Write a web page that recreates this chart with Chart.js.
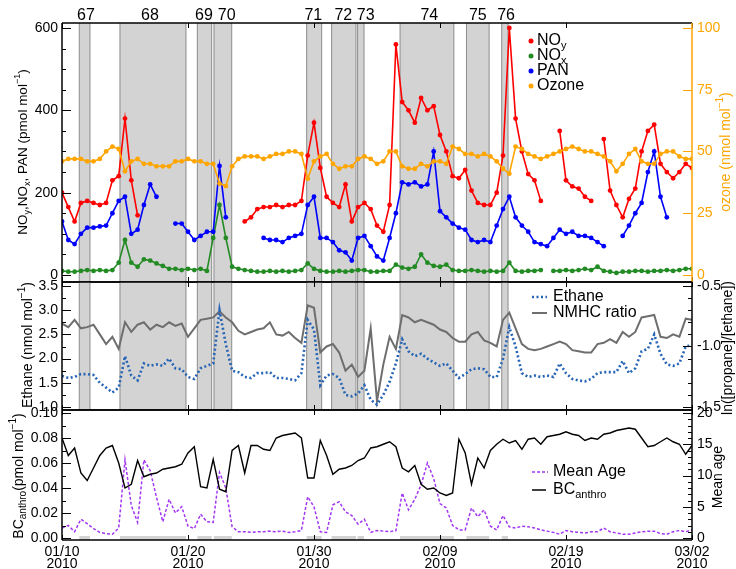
<!DOCTYPE html>
<html>
<head>
<meta charset="utf-8">
<script src="https://cdn.jsdelivr.net/npm/chart.js@4.4.0/dist/chart.umd.min.js"></script>
<style>
  body { margin: 0; background: #fff; }
  #wrap { position: relative; width: 736px; height: 569px; }
  #wrap canvas { position: absolute; left: 0; top: 0; }
</style>
</head>
<body>
<div id="wrap">
  <canvas id="cTop" width="736" height="569"></canvas>
  <canvas id="cMid" width="736" height="569"></canvas>
  <canvas id="cBot" width="736" height="569"></canvas>
</div>
<script>
const FONT = '"Liberation Sans", Arial, sans-serif';

// x grid : half-day steps, day 0 = 01/10 ... day 50 = 03/02
const days = [];
for (let i = 0; i <= 100; i++) {
  days.push(i / 2);
}
const tickDays = [0, 10, 20, 30, 40, 50];
const dateLabels = ["01/10", "01/20", "01/30", "02/09", "02/19", "03/02"];
const yearLabel = "2010";

// episodes (grey bands)
const episodeLabels = ["67", "68", "69", "70", "71", "72", "73", "74", "75", "76"];
const episodeStart = [1.37, 4.6, 10.74, 12.06, 19.42, 21.4, 23.46, 26.83, 32.1, 34.9];
const episodeEnd = [2.22, 9.84, 11.88, 13.47, 20.61, 23.33, 23.97, 31.1, 33.9, 35.4];
const episodeLabelDay = [1.9, 6.98, 11.27, 13.07, 19.95, 22.33, 24.1, 29.15, 33.0, 35.24];

// top panel (pmol/mol, ozone nmol/mol)
const noy = [
  200, 165, 130, 175, 180, 175, 170, 175, 230, 240,
  380, 230, 145, null, null, null, null, null, null, null,
  null, null, null, null, null, null, null, null, null, 130,
  140, 160, 165, 165, 170, 165, 170, 170, 180, 290,
  370, 260, 190, 175, 165, 220, 130, 165, 175, 160,
  120, 105, 170, 560, 420, 400, 370, 430, 400, 410,
  340, 300, 240, 235, 255, 205, 175, 170, 170, 200,
  290, 600, 380, 300, 245, 230, 180, null, null, 350,
  230, 215, 210, 190, 180, null, 330, 205, 170, 140,
  185, 210, 300, 350, 365, 270, 250, 235, 250, 270,
  260
];
const nox = [
  10, 8, 8, 10, 12, 10, 12, 10, 12, 30,
  85, 30, 20, 38, 35, 28, 22, 15, 15, 12,
  15, 12, 15, 10, 90, 170, 90, 20, 15, 12,
  10, 8, 8, 10, 8, 10, 8, 10, 12, 28,
  15, 10, 8, 8, 10, 8, 10, 12, 12, 8,
  8, 10, 10, 25, 18, 15, 20, 50, 30, 22,
  20, 25, 12, 10, 10, 12, 10, 8, 10, 8,
  10, 30, 10, 8, 10, 10, 12, null, 10, 10,
  12, 10, 12, 15, 12, 20, 10, 8, 5, 8,
  8, 10, 10, 8, 10, 10, 12, 10, 12, 15,
  15
];
const pan = [
  130, 85, 75, 100, 115, 115, 118, 120, 150, 180,
  190, 100, 110, 170, 220, 190, null, null, 125, 125,
  105, 85, 95, 105, 105, 265, 140, null, null, null,
  null, null, 90, 85, 85, 80, 90, 95, 100, 170,
  190, 90, 90, 80, 60, 55, 35, 90, 95, 70,
  45, 35, 90, 150, 225, 220, 225, 215, 220, 300,
  155, 140, 125, 115, 110, 85, 80, 85, 80, 120,
  160, 190, 140, 120, 105, 80, 75, 70, 90, 110,
  100, 105, 95, 95, 90, 80, 70, null, null, 95,
  120, 150, 175, 250, 300, 190, 140, null, null, null,
  null
];
const ozone = [
  46, 47, 47, 47, 46, 46, 47, 50, 52, 51,
  42, 46, 47, 45, 45, 44, 44, 44, 46, 46,
  47, 46, 46, 45, 45, 37, 36, 44, 47, 48,
  48, 48, 47, 48, 49, 49, 50, 50, 49, 39,
  46, 48, 49, 45, 43, 44, 44, 47, 48, 47,
  45, 46, 50, 50, 44, 43, 43, 45, 44, 46,
  46, 45, 52, 51, 49, 49, 48, 49, 48, 46,
  43, 41, 52, 51, 49, 48, 47, 48, 49, 50,
  51, 52, 51, 50, 50, 49, 48, 46, 42, 45,
  49, 51, 46, 45, 45, 49, 50, 50, 48, 47,
  47
];

// middle panel
const ethane = [
  1.64, 1.60, 1.62, 1.68, 1.68, 1.66, 1.50, 1.40, 1.30, 1.40,
  2.05, 1.65, 1.55, 1.90, 1.85, 1.88, 1.85, 2.00, 1.80, 1.78,
  1.62, 1.58, 1.80, 1.85, 1.90, 3.00, 2.30, 1.75, 1.72, 1.62,
  1.60, 1.70, 1.70, 1.72, 1.60, 1.60, 1.58, 1.55, 1.70, 2.80,
  2.60, 1.45, 1.65, 1.68, 1.60, 1.25, 1.22, 1.28, 1.45, 1.15,
  1.05, 1.25, 1.52, 1.90, 2.40, 2.15, 2.05, 2.10, 2.00, 1.92,
  1.85, 1.90, 1.75, 1.60, 1.68, 1.78, 1.80, 1.78, 1.62, 1.62,
  2.00, 2.65, 2.25, 1.70, 1.62, 1.65, 1.62, 1.65, 1.62, 1.90,
  1.70, 1.58, 1.55, 1.53, 1.58, 1.70, 1.72, 1.72, 1.72, 1.95,
  1.70, 1.80, 2.15, 2.20, 2.50, 2.10, 1.88, 1.85, 1.90, 2.25,
  2.28
];
const nmhcRatio = [
  -0.81, -0.84, -0.78, -0.85, -0.84, -0.82, -0.90, -0.98, -0.92, -1.02,
  -0.80, -0.88, -0.82, -0.80, -0.86, -0.82, -0.84, -0.80, -0.83, -0.81,
  -0.92, -0.85, -0.78, -0.77, -0.76, -0.71, -0.76, -0.80, -0.87, -0.90,
  -0.88, -0.86, -0.85, -0.80, -0.90, -0.91, -0.88, -0.93, -0.97, -0.66,
  -0.68, -1.05, -1.00, -0.98, -1.05, -1.20, -1.15, -1.25, -1.20, -0.85,
  -1.45, -1.15, -0.92, -1.02, -0.74, -0.76, -0.80, -0.78, -0.80, -0.82,
  -0.86, -0.88, -0.93, -0.96, -0.96, -0.90, -0.88, -0.95, -0.97, -1.00,
  -0.78, -0.72, -0.85, -0.98, -1.02, -1.03, -1.02, -1.00, -0.98, -0.96,
  -0.98, -1.03, -1.04, -1.05, -1.05, -0.98, -0.97, -0.94, -0.97, -0.88,
  -0.92, -0.88, -0.76, -0.75, -0.74, -0.92, -0.93, -0.90, -0.92, -0.77,
  -0.78
];

// bottom panel
const bcAnthro = [
  0.080, 0.066, 0.072, 0.052, 0.046, 0.056, 0.066, 0.072, 0.074, 0.060,
  0.040, 0.043, 0.062, 0.049, 0.051, 0.052, 0.055, 0.056, 0.057, 0.059,
  0.068, 0.073, 0.041, 0.040, 0.063, 0.039, 0.037, 0.070, 0.074, 0.052,
  0.074, 0.074, 0.071, 0.070, 0.080, 0.082, 0.083, 0.084, 0.080, 0.048,
  0.048, 0.078, 0.066, 0.051, 0.055, 0.056, 0.058, 0.062, 0.064, 0.072,
  0.073, 0.075, 0.077, 0.073, 0.056, 0.053, 0.058, 0.043, 0.039, 0.040,
  0.036, 0.034, 0.036, 0.079, 0.068, 0.043, 0.064, 0.056, 0.070, 0.075,
  0.079, 0.076, 0.078, 0.071, 0.079, 0.080, 0.075, 0.081, 0.082, 0.083,
  0.085, 0.083, 0.082, 0.078, 0.080, 0.079, 0.083, 0.084, 0.086, 0.087,
  0.088, 0.087, 0.080, 0.073, 0.074, 0.077, 0.080, 0.077, 0.075, 0.067,
  0.074
];
const meanAge = [
  1.6, 2.0, 1.0, 3.0, 2.3, 1.5, 0.9, 0.7, 0.6, 1.6,
  12.5, 5.2, 2.5, 12.5, 10.8, 6.5, 2.6, 6.2, 4.0, 5.0,
  1.9, 1.5, 3.8, 2.6, 2.5, 10.5, 8.0, 1.8, 1.0, 1.0,
  0.9, 1.0, 1.0, 1.1, 1.0, 1.1, 0.9, 1.0, 1.2, 6.6,
  5.0, 1.0, 0.9, 5.3, 5.8, 4.2, 3.6, 2.2, 3.0, 0.9,
  1.2, 1.1, 1.0, 1.2, 7.2, 4.5, 6.2, 8.5, 12.0, 9.5,
  5.5, 4.8, 2.0, 1.3, 1.3, 4.8, 3.4, 4.5, 1.9, 1.3,
  3.6, 1.8, 1.6, 1.9, 1.8, 1.6, 1.3, 1.1, 0.9, 0.6,
  1.2, 1.0, 0.9, 0.8, 1.0, 1.0, 1.6, 1.0, 0.8, 0.6,
  0.6, 0.8, 1.0, 1.1, 1.1, 0.7, 0.6, 1.0, 1.2, 1.0,
  1.3
];

// tick labels
const noyTicks = [0, 200, 400, 600];
const ozoneTicks = [0, 25, 50, 75, 100];
const ethaneTicks = [1.0, 1.5, 2.0, 2.5, 3.0, 3.5];
const ratioTicks = [-1.5, -1.0, -0.5];
const bcTicks = [0, 0.02, 0.04, 0.06, 0.08, 0.10];
const ageTicks = [0, 5, 10, 15, 20];

const RED = "#ff0000", GREEN = "#238b23", BLUE = "#0000ff", ORANGE = "#ffa500";
const ETH = "#2563b4", GREY = "#6e6e6e", PURPLE = "#a236f2";

function pts(arr) {
  return days.map((d, i) => ({ x: d, y: arr[i] }));
}

function line(ctx, x0, y0, x1, y1) {
  ctx.beginPath();
  ctx.moveTo(x0, y0);
  ctx.lineTo(x1, y1);
  ctx.stroke();
}

// text with sub/superscripts, parts = [[text, "sub"|"sup"|undefined], ...]
function rich(ctx, parts, x, y, size, color, rot, align) {
  ctx.save();
  ctx.translate(x, y);
  if (rot) ctx.rotate(rot);
  ctx.fillStyle = color;
  ctx.textBaseline = "middle";
  ctx.textAlign = "left";
  const small = Math.round(size * 0.7);
  const fontOf = p => (p[1] ? small : size) + "px " + FONT;
  let w = 0;
  parts.forEach(p => { ctx.font = fontOf(p); w += ctx.measureText(p[0]).width; });
  let cx = align === "left" ? 0 : -w / 2;
  parts.forEach(p => {
    ctx.font = fontOf(p);
    const dy = p[1] === "sub" ? size * 0.32 : p[1] === "sup" ? -size * 0.38 : 0;
    ctx.fillText(p[0], cx, dy);
    cx += ctx.measureText(p[0]).width;
  });
  ctx.restore();
}

// inward tick marks on a y axis
function yTicks(ctx, scale, x, dir, minorStep, color) {
  ctx.strokeStyle = color;
  ctx.lineWidth = 1;
  if (minorStep) {
    for (let k = Math.ceil(scale.min / minorStep - 1e-6); k * minorStep <= scale.max + 1e-9; k++) {
      const y = Math.round(scale.getPixelForValue(k * minorStep)) + 0.5;
      line(ctx, x, y, x + dir * 4, y);
    }
  }
  scale.ticks.forEach(t => {
    const y = Math.round(scale.getPixelForValue(t.value)) + 0.5;
    line(ctx, x, y, x + dir * 9, y);
  });
}

function panelPlugin(cfg) {
  return {
    id: "panel_" + cfg.name,
    beforeDatasetsDraw(chart) {
      const { ctx, chartArea: a, scales: { x } } = chart;
      ctx.save();
      episodeStart.forEach((s, i) => {
        const x0 = x.getPixelForValue(s), x1 = x.getPixelForValue(episodeEnd[i]);
        ctx.fillStyle = "#d3d3d3";
        if (cfg.strip) {
          ctx.fillRect(x0, a.bottom - 4, x1 - x0, 4);
          return;
        }
        ctx.fillRect(x0, a.top, x1 - x0, a.bottom - a.top);
        ctx.strokeStyle = "#8c8c8c";
        ctx.lineWidth = 1;
        line(ctx, x0, a.top, x0, a.bottom);
        line(ctx, x1, a.top, x1, a.bottom);
      });
      ctx.restore();
    },
    afterDraw(chart) {
      const { ctx, chartArea: a, scales } = chart;
      ctx.save();
      ctx.strokeStyle = "#000";
      ctx.lineWidth = 1;
      tickDays.forEach(d => {
        const px = Math.round(scales.x.getPixelForValue(d)) + 0.5;
        line(ctx, px, a.top, px, a.top + 5);
        line(ctx, px, a.bottom - 5, px, a.bottom);
      });
      yTicks(ctx, scales.y, a.left, 1, cfg.leftMinor, "#000");
      yTicks(ctx, scales.y2, a.right, -1, cfg.rightMinor, cfg.rightColor);
      // frame
      ctx.lineWidth = 1.5;
      ctx.strokeStyle = "#000";
      line(ctx, a.left, a.top, a.right, a.top);
      line(ctx, a.left, a.bottom, a.right, a.bottom);
      line(ctx, a.left, a.top, a.left, a.bottom);
      ctx.strokeStyle = cfg.rightColor;
      line(ctx, a.right, a.top, a.right, a.bottom);
      cfg.extra(ctx, chart);
      ctx.restore();
    }
  };
}

function yScale(pos, min, max, ticks, fmt, color, width) {
  return {
    type: "linear",
    position: pos,
    min: min,
    max: max,
    afterFit: s => { s.width = width; },
    afterBuildTicks: s => { s.ticks = ticks.map(v => ({ value: v })); },
    grid: { display: false, drawTicks: false },
    border: { display: false },
    ticks: { color: color, font: { family: FONT, size: 14 }, padding: pos === "left" ? 4 : 5, callback: fmt }
  };
}

const hiddenX = { type: "linear", min: 0, max: 50, display: false };

function makeChart(id, padTop, padBottom, datasets, scales, plugin) {
  return new Chart(document.getElementById(id), {
    type: "line",
    data: { datasets: datasets },
    options: {
      responsive: false,
      animation: false,
      events: [],
      layout: { padding: { top: padTop, bottom: padBottom, left: 0, right: 0 } },
      plugins: { legend: { display: false }, tooltip: { enabled: false } },
      scales: scales
    },
    plugins: [plugin]
  });
}

function dots(label, arr, color, axis, order) {
  return {
    label: label, data: pts(arr), yAxisID: axis, order: order,
    borderColor: color, backgroundColor: color, borderWidth: 1.6,
    pointRadius: 2.4, pointBorderWidth: 0, pointBackgroundColor: color, spanGaps: false
  };
}

/* top panel : NOy, NOx, PAN, ozone */
makeChart("cTop", 23, 569 - 282, [
  dots("Ozone", ozone, ORANGE, "y2", 0),
  dots("NOy", noy, RED, "y", 1),
  dots("PAN", pan, BLUE, "y", 2),
  dots("NOx", nox, GREEN, "y", 3)
], {
  x: hiddenX,
  y: yScale("left", -17, 612, noyTicks, v => String(v), "#000", 62),
  y2: yScale("right", -17 / 6, 612 / 6, ozoneTicks, v => String(v), ORANGE, 44)
}, panelPlugin({
  name: "top", leftMinor: 50, rightMinor: 0, rightColor: ORANGE,
  extra(ctx, chart) {
    const x = chart.scales.x;
    ctx.fillStyle = "#000";
    ctx.font = "16px " + FONT;
    ctx.textAlign = "center";
    ctx.textBaseline = "middle";
    episodeLabels.forEach((t, i) => ctx.fillText(t, x.getPixelForValue(episodeLabelDay[i]), 16));
    rich(ctx, [["NO"], ["y", "sub"], [",NO"], ["x", "sub"], [", PAN (pmol mol"], ["\u22121", "sup"], [")"]], 23, 152, 13.5, "#000", -Math.PI / 2);
    rich(ctx, [["ozone (nmol mol"], ["\u22121", "sup"], [")"]], 726, 152, 14, ORANGE, -Math.PI / 2);
    const legendText = [[["NO"], ["y", "sub"]], [["NO"], ["x", "sub"]], [["PAN"]], [["Ozone"]]];
    const legendColor = [RED, GREEN, BLUE, ORANGE];
    legendText.forEach((parts, i) => {
      const y = 41 + i * 15;
      ctx.fillStyle = legendColor[i];
      ctx.beginPath();
      ctx.arc(531, y, 2.5, 0, Math.PI * 2);
      ctx.fill();
      rich(ctx, parts, 537, y, 16, "#000", 0, "left");
    });
  }
}));

/* middle panel : ethane and NMHC ratio */
makeChart("cMid", 282, 569 - 410, [
  { label: "Ethane", data: pts(ethane), yAxisID: "y", order: 0, borderColor: ETH, borderWidth: 2.6, borderDash: [2, 2.5], pointRadius: 0 },
  { label: "NMHC ratio", data: pts(nmhcRatio), yAxisID: "y2", order: 1, borderColor: GREY, borderWidth: 2, pointRadius: 0 }
], {
  x: hiddenX,
  y: yScale("left", 0.938, 3.583, ethaneTicks, v => v.toFixed(1), "#000", 62),
  y2: yScale("right", -1.525, -0.467, ratioTicks, v => v.toFixed(1), "#000", 44)
}, panelPlugin({
  name: "mid", leftMinor: 0.25, rightMinor: 0.1, rightColor: "#000",
  extra(ctx) {
    rich(ctx, [["Ethane (nmol mol"], ["\u22121", "sup"], [")"]], 28, 345, 14, "#000", -Math.PI / 2);
    rich(ctx, [["ln([propane]/[ethane])"]], 728, 348, 14, "#000", -Math.PI / 2);
    ctx.lineWidth = 2.6;
    ctx.strokeStyle = ETH;
    ctx.setLineDash([2, 2.5]);
    line(ctx, 532, 297, 547, 297);
    ctx.setLineDash([]);
    ctx.lineWidth = 2;
    ctx.strokeStyle = GREY;
    line(ctx, 532, 313, 547, 313);
    rich(ctx, [["Ethane"]], 553, 297, 16, "#000", 0, "left");
    rich(ctx, [["NMHC ratio"]], 553, 313, 16, "#000", 0, "left");
  }
}));

/* bottom panel : BC anthro and mean age */
makeChart("cBot", 410, 0, [
  { label: "BC", data: pts(bcAnthro), yAxisID: "y", order: 0, borderColor: "#000", borderWidth: 1.4, pointRadius: 0 },
  { label: "Mean Age", data: pts(meanAge), yAxisID: "y2", order: 1, borderColor: PURPLE, borderWidth: 1.5, borderDash: [3, 2], pointRadius: 0 }
], {
  x: {
    type: "linear", position: "bottom", min: 0, max: 50,
    afterFit: s => { s.height = 29; },
    afterBuildTicks: s => { s.ticks = tickDays.map(v => ({ value: v })); },
    grid: { display: false, drawTicks: false },
    border: { display: false },
    ticks: {
      autoSkip: false, maxRotation: 0, padding: 7, color: "#000",
      font: { family: FONT, size: 14, lineHeight: 0.8 },
      callback: v => [dateLabels[tickDays.indexOf(v)], yearLabel]
    }
  },
  y: yScale("left", -0.0016, 0.1024, bcTicks, v => v.toFixed(2), "#000", 62),
  y2: yScale("right", -0.32, 20.48, ageTicks, v => String(v), "#000", 44)
}, panelPlugin({
  name: "bot", strip: true, leftMinor: 0.01, rightMinor: 1, rightColor: "#000",
  extra(ctx) {
    rich(ctx, [["BC"], ["anthro", "sub"], ["(pmol mol"], ["\u22121", "sup"], [")"]], 19, 476, 14, "#000", -Math.PI / 2);
    rich(ctx, [["Mean age"]], 718, 477, 14, "#000", -Math.PI / 2);
    ctx.lineWidth = 1.5;
    ctx.strokeStyle = PURPLE;
    ctx.setLineDash([3, 2]);
    line(ctx, 532, 472, 548, 472);
    ctx.setLineDash([]);
    ctx.strokeStyle = "#000";
    line(ctx, 532, 490, 546, 490);
    rich(ctx, [["Mean Age"]], 553, 472, 16, "#000", 0, "left");
    rich(ctx, [["BC"], ["anthro", "sub"]], 553, 490, 16, "#000", 0, "left");
  }
}));
</script>
</body>
</html>
